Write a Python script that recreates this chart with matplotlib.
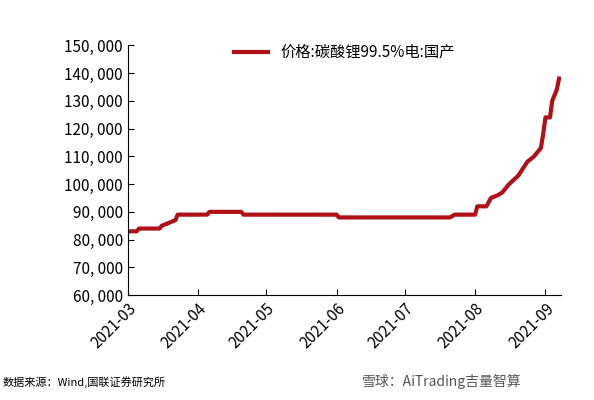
import matplotlib
matplotlib.use("Agg")
import matplotlib.pyplot as plt
import matplotlib.dates as mdates
import pandas as pd

plt.rcParams['font.family'] = ['Noto Sans CJK SC', 'DejaVu Sans']

dates = ["2021-03-01","2021-03-05","2021-03-06","2021-03-15","2021-03-16","2021-03-19","2021-03-22",
         "2021-03-23","2021-04-05","2021-04-06","2021-04-20","2021-04-21","2021-06-01","2021-06-02",
         "2021-07-21","2021-07-23","2021-08-01","2021-08-02","2021-08-06","2021-08-08","2021-08-11",
         "2021-08-13","2021-08-16","2021-08-20","2021-08-24","2021-08-27","2021-08-30","2021-08-31",
         "2021-09-01","2021-09-03","2021-09-04","2021-09-06","2021-09-07"]
values = [83000,83000,84000,84000,85000,86000,87000,
          89000,89000,90000,90000,89000,89000,88000,
          88000,89000,89000,92000,92000,95000,96000,
          97000,100000,103000,108000,110000,113000,118000,
          124000,124000,130000,134000,138000]
label = "价格:碳酸锂99.5%电:国产"
yticks = list(range(60000, 150001, 10000))

fig = plt.figure(figsize=(5.94, 4.0), dpi=100)
ax = fig.add_axes([0.215, 0.262, 0.73, 0.625])
ax.plot(pd.to_datetime(dates), values, color='#B01116', lw=3, label=label)
ax.set_ylim(60000, 150000)
ax.set_yticks(yticks)
ax.set_yticklabels([f"{v:,}".replace(",", ", ") for v in yticks], fontsize=11)
ax.set_xlim(pd.Timestamp("2021-03-01"), pd.Timestamp("2021-09-08"))
ax.xaxis.set_major_locator(mdates.MonthLocator())
ax.xaxis.set_major_formatter(mdates.DateFormatter("%Y-%m"))
plt.setp(ax.get_xticklabels(), rotation=45, ha='right', rotation_mode='anchor', fontsize=11)
ax.tick_params(direction='in', length=4)
for s in ['top', 'right']:
    ax.spines[s].set_visible(False)
ax.legend(loc='upper center', bbox_to_anchor=(0.5, 1.06), frameon=False, fontsize=11, handlelength=2.2)
fig.text(0.005, 0.035, "数据来源：Wind,国联证券研究所", fontsize=8)
fig.text(0.61, 0.035, "雪球：AiTrading吉量智算", fontsize=10, color='#555555')
fig.savefig("out.png", dpi=100)
